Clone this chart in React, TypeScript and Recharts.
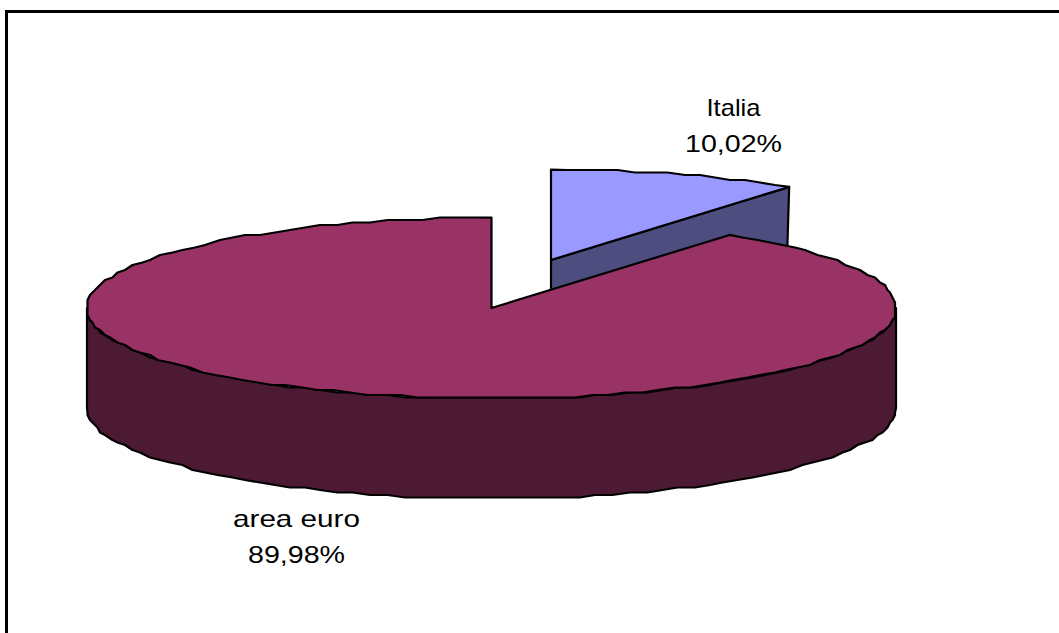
import { PieChart, Pie, Cell } from "recharts";

const names = ["Italia", "area euro"];
const shares = [10.02, 89.98];
const topColors = ["#9999ff", "#993366"];
const wallColors = ["#4d4d80", "#4d1a33"];

const data = names.map((name, i) => ({ name, value: shares[i], wall: wallColors[i] }));

const WIDTH = 1059;
const HEIGHT = 633;
const CX = 491.5;
const CY = 308;
const RADIUS = 404.5;
const SQUASH = 0.2235; // pie is tilted, circle becomes a flat ellipse
const DEPTH = 100;
const STEP = 2.5; // the original outline is a little rough

// how far each slice is pulled out of the pie
const explode: Record<string, { dx: number; dy: number }> = {
  Italia: { dx: 59.5, dy: -48 },
  "area euro": { dx: 0, dy: 0 },
};

// label centres relative to the pie centre, and the stretched text widths of the original
const labelSpots: Record<string, { dx: number; dy: number; w1: number; w2: number }> = {
  Italia: { dx: 242, dy: -192, w1: 54, w2: 97 },
  "area euro": { dx: -195, dy: 219, w1: 127, w2: 97 },
};

const rough = (v: number) => Math.round(v / STEP) * STEP;

// ellipse outline between two pie angles (degrees), as a slightly rough list of points
const arcPoints = (x: number, y: number, from: number, to: number, drop = 0) => {
  const n = Math.max(2, Math.ceil(Math.abs(to - from) / 2.5));
  const pts: string[] = [];
  for (let i = 0; i <= n; i++) {
    const a = ((from + ((to - from) * i) / n) * Math.PI) / 180;
    const px = x + RADIUS * Math.cos(a);
    const py = y - RADIUS * SQUASH * Math.sin(a) + drop;
    const edge = i === 0 || i === n;
    pts.push(`${edge ? px : rough(px)},${edge ? py : rough(py)}`);
  }
  return pts;
};

// eslint-disable-next-line @typescript-eslint/no-explicit-any
const Slice3D = (props: any) => {
  const { cx, cy, startAngle, endAngle, fill, payload } = props;
  const off = explode[payload.name];
  const x = cx + off.dx;
  const y = cy + off.dy;
  const line = { stroke: "#000", strokeWidth: 2.2, strokeLinejoin: "round" as const };

  const endRad = (endAngle * Math.PI) / 180;
  const tipX = x + RADIUS * Math.cos(endRad);
  const tipY = y - RADIUS * SQUASH * Math.sin(endRad);

  // front of the rim is only there for angles below the horizon (0 .. -180)
  const frontFrom = Math.min(startAngle, 0);
  const frontTo = Math.max(endAngle, -180);
  const hasFront = frontFrom > frontTo;

  return (
    <g>
      {!hasFront && (
        <polygon
          points={`${x},${y} ${tipX},${tipY} ${tipX - 3},${tipY + DEPTH} ${x},${y + DEPTH}`}
          fill={payload.wall}
          {...line}
        />
      )}
      {hasFront && (
        <polygon
          points={[
            ...arcPoints(x, y, frontFrom, frontTo),
            ...arcPoints(x, y, frontTo, frontFrom, DEPTH),
          ].join(" ")}
          fill={payload.wall}
          {...line}
        />
      )}
      <polygon
        points={[`${x},${y}`, ...arcPoints(x, y, startAngle, endAngle)].join(" ")}
        fill={fill}
        {...line}
      />
    </g>
  );
};

// eslint-disable-next-line @typescript-eslint/no-explicit-any
const SliceLabel = (props: any) => {
  const { cx, cy, name, value } = props;
  const spot = labelSpots[name];
  const x = cx + spot.dx;
  const y = cy + spot.dy;
  const style = { fontFamily: "'Liberation Sans', Arial, sans-serif", fontSize: 24, fill: "#000" };
  return (
    <g>
      <text x={x} y={y} textAnchor="middle" textLength={spot.w1} lengthAdjust="spacingAndGlyphs" {...style}>
        {name}
      </text>
      <text x={x} y={y + 36} textAnchor="middle" textLength={spot.w2} lengthAdjust="spacingAndGlyphs" {...style}>
        {`${value.toFixed(2).replace(".", ",")}%`}
      </text>
    </g>
  );
};

export default function App() {
  return (
    <div style={{ position: "absolute", left: 0, top: 0, width: WIDTH, height: HEIGHT, background: "#fff", overflow: "hidden" }}>
      {/* only the top and left of the chart frame are inside the picture */}
      <div
        style={{
          position: "absolute",
          left: 5,
          top: 10,
          right: 0,
          bottom: 0,
          borderTop: "3px solid #000",
          borderLeft: "3px solid #000",
        }}
      />
      <PieChart width={WIDTH} height={HEIGHT} margin={{ top: 0, right: 0, bottom: 0, left: 0 }} style={{ position: "absolute" }}>
        <Pie
          data={data}
          dataKey="value"
          nameKey="name"
          cx={CX}
          cy={CY}
          outerRadius={RADIUS}
          startAngle={90}
          endAngle={-270}
          stroke="none"
          shape={Slice3D}
          label={SliceLabel}
          labelLine={false}
          isAnimationActive={false}
        >
          {data.map((d, i) => (
            <Cell key={d.name} fill={topColors[i]} />
          ))}
        </Pie>
      </PieChart>
    </div>
  );
}
